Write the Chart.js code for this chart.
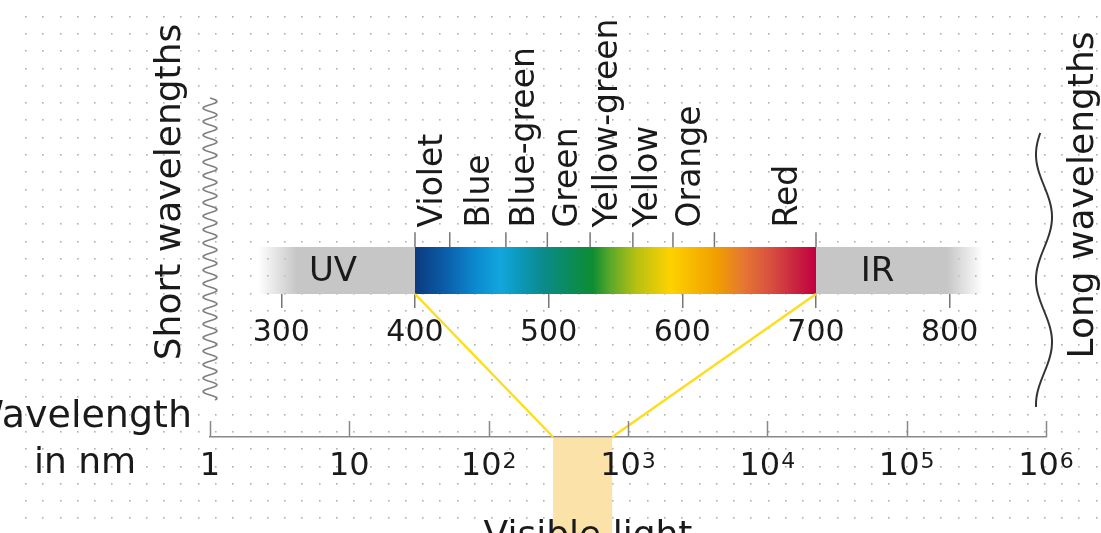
<!DOCTYPE html>
<html>
<head>
<meta charset="utf-8">
<script src="https://cdn.jsdelivr.net/npm/chart.js"></script>
<style>
html, body { margin: 0; padding: 0; background: #fff; }
#wrap { width: 1101px; height: 533px; }
</style>
</head>
<body>
<div id="wrap"><canvas id="plotCanvas"></canvas></div>
<script>
// log wavelength axis (nm)
var logTicks = [1, 10, 100, 1000, 10000, 100000, 1000000];
var logBase = ['1', '10', '10', '10', '10', '10', '10'];
var logExp = ['', '', '2', '3', '4', '5', '6'];
var visibleRange = [290, 770];

// linear zoom on the visible part (nm)
var nmTicks = [300, 400, 500, 600, 700, 800];
var spectrumRange = [400, 700];
var bandNames = ['Violet', 'Blue', 'Blue-green', 'Green', 'Yellow-green', 'Yellow', 'Orange', 'Red'];
var bandLabelNm = [413.8, 449, 482.7, 514.8, 544.7, 574.7, 606.9, 679.4];
var bandEdgesNm = [400, 426, 468, 499, 531, 563, 593, 624, 700];
var spectrumNm = [400, 421, 446, 464, 479, 496, 516, 533, 546, 566, 591, 608, 626, 645, 666, 686, 700];
var spectrumColors = ['#0b3a7e', '#0b5aa6', '#0b8bd0', '#12a6dc', '#0b98b8', '#0b8b8b', '#0b8b5a', '#0e8c32',
    '#5aa82a', '#b9c012', '#fed200', '#f8b800', '#f09e00', '#e67832', '#d8503f', '#c8203f', '#c2003f'];
var uvRange = [282.5, 311.7, 400];   // fade start, solid start, end
var irRange = [700, 797.9, 824.9];   // start, solid end, fade end
var uvLabelNm = 338.7;
var irLabelNm = 746;

var FONT = "'DejaVu Sans', sans-serif";

function fnt(size) {
    return size + 'px ' + FONT;
}

var diagramPlugin = {
    id: 'diagram',
    beforeDraw: function (chart) {
        var ctx = chart.ctx;
        ctx.save();
        ctx.fillStyle = '#ffffff';
        ctx.fillRect(0, 0, chart.width, chart.height);
        ctx.fillStyle = '#b0b0b0';
        for (var gx = 25; gx < chart.width; gx += 17.27) {
            for (var gy = 15.7; gy < chart.height; gy += 17.3) {
                ctx.fillRect(Math.round(gx), Math.round(gy), 1.6, 1.6);
            }
        }
        ctx.restore();
    },
    beforeDatasetsDraw: function (chart) {
        var ctx = chart.ctx;
        var xLog = chart.scales.x;
        var xNm = chart.scales.nm;
        var y = chart.scales.y;
        var area = chart.chartArea;
        var top = y.getPixelForValue(1);
        var bottom = y.getPixelForValue(0);
        var h = bottom - top;
        ctx.save();

        // UV and IR grey bands, fading out at the outer ends
        var gUv = ctx.createLinearGradient(xNm.getPixelForValue(uvRange[0]), 0, xNm.getPixelForValue(uvRange[1]), 0);
        gUv.addColorStop(0, 'rgba(198,198,198,0)');
        gUv.addColorStop(1, 'rgba(198,198,198,1)');
        ctx.fillStyle = gUv;
        ctx.fillRect(xNm.getPixelForValue(uvRange[0]), top, xNm.getPixelForValue(uvRange[2]) - xNm.getPixelForValue(uvRange[0]), h);
        var gIr = ctx.createLinearGradient(xNm.getPixelForValue(irRange[1]), 0, xNm.getPixelForValue(irRange[2]), 0);
        gIr.addColorStop(0, 'rgba(198,198,198,1)');
        gIr.addColorStop(1, 'rgba(198,198,198,0)');
        ctx.fillStyle = gIr;
        ctx.fillRect(xNm.getPixelForValue(irRange[0]), top, xNm.getPixelForValue(irRange[2]) - xNm.getPixelForValue(irRange[0]), h);

        // the spectrum itself
        var x0 = xNm.getPixelForValue(spectrumRange[0]);
        var x1 = xNm.getPixelForValue(spectrumRange[1]);
        var grad = ctx.createLinearGradient(x0, 0, x1, 0);
        spectrumNm.forEach(function (nm, i) {
            grad.addColorStop((nm - spectrumRange[0]) / (spectrumRange[1] - spectrumRange[0]), spectrumColors[i]);
        });
        ctx.fillStyle = grad;
        ctx.fillRect(x0, top, x1 - x0, h);

        // visible light window on the log axis
        var v0 = xLog.getPixelForValue(visibleRange[0]);
        var v1 = xLog.getPixelForValue(visibleRange[1]);
        ctx.fillStyle = '#fbe2a8';
        ctx.fillRect(v0, area.bottom + 1, v1 - v0, chart.height - area.bottom);

        // yellow connectors
        ctx.strokeStyle = '#ffdc1e';
        ctx.lineWidth = 2.5;
        ctx.beginPath();
        ctx.moveTo(x0, bottom);
        ctx.lineTo(v0, area.bottom);
        ctx.moveTo(x1, bottom);
        ctx.lineTo(v1, area.bottom);
        ctx.stroke();

        // decade ticks pointing up from the log axis
        ctx.strokeStyle = '#888888';
        ctx.lineWidth = 1.5;
        ctx.beginPath();
        logTicks.forEach(function (v) {
            var px = Math.round(xLog.getPixelForValue(v)) + 0.5;
            ctx.moveTo(px, area.bottom);
            ctx.lineTo(px, area.bottom - 16);
        });
        ctx.stroke();

        // short wave on the left
        var wx = xLog.getPixelForValue(logTicks[0]);
        ctx.strokeStyle = '#808080';
        ctx.lineWidth = 1.6;
        ctx.beginPath();
        for (var wy = 98; wy <= 400; wy++) {
            var px = wx + 7 * Math.sin(2 * Math.PI * (wy - 98) / 13.5);
            if (wy === 98) ctx.moveTo(px, wy); else ctx.lineTo(px, wy);
        }
        ctx.stroke();

        // long wave on the right
        var lx = xLog.getPixelForValue(logTicks[logTicks.length - 1]) - 2;
        ctx.strokeStyle = '#333333';
        ctx.lineWidth = 2;
        ctx.beginPath();
        for (var ly = 133; ly <= 407; ly++) {
            var qx = lx + 8 * Math.cos(2 * Math.PI * (ly - 217) / 125);
            if (ly === 133) ctx.moveTo(qx, ly); else ctx.lineTo(qx, ly);
        }
        ctx.stroke();
        ctx.restore();
    },
    afterDraw: function (chart) {
        var ctx = chart.ctx;
        var xLog = chart.scales.x;
        var xNm = chart.scales.nm;
        var y = chart.scales.y;
        ctx.save();
        ctx.fillStyle = '#1a1a1a';

        // colour names, rotated
        ctx.font = fnt(33);
        ctx.textAlign = 'left';
        ctx.textBaseline = 'middle';
        bandNames.forEach(function (name, i) {
            ctx.save();
            ctx.translate(xNm.getPixelForValue(bandLabelNm[i]), y.getPixelForValue(1.417));
            ctx.rotate(-Math.PI / 2);
            ctx.fillText(name, 0, 0);
            ctx.restore();
        });

        // UV / IR
        ctx.font = fnt(34);
        ctx.textAlign = 'center';
        ctx.textBaseline = 'alphabetic';
        ctx.fillText('UV', xNm.getPixelForValue(uvLabelNm), 281);
        ctx.fillText('IR', xNm.getPixelForValue(irLabelNm), 281);

        // log axis labels with superscripts
        logTicks.forEach(function (v, i) {
            ctx.font = fnt(32);
            var wb = ctx.measureText(logBase[i]).width;
            ctx.font = fnt(22);
            var we = logExp[i] ? ctx.measureText(logExp[i]).width + 1 : 0;
            var sx = xLog.getPixelForValue(v) - (wb + we) / 2;
            ctx.textAlign = 'left';
            ctx.font = fnt(32);
            ctx.fillText(logBase[i], sx, 475);
            if (logExp[i]) {
                ctx.font = fnt(22);
                ctx.fillText(logExp[i], sx + wb + 1, 468);
            }
        });

        ctx.font = fnt(38);
        ctx.textAlign = 'right';
        ctx.fillText('Wavelength', 192, 427);
        ctx.font = fnt(36);
        ctx.textAlign = 'center';
        ctx.fillText('in nm', 85, 473);
        ctx.fillText('Visible light', 588, 546);

        ctx.save();
        ctx.translate(180, 192);
        ctx.rotate(-Math.PI / 2);
        ctx.fillText('Short wavelengths', 0, 0);
        ctx.restore();

        ctx.save();
        ctx.translate(1093, 195);
        ctx.rotate(-Math.PI / 2);
        ctx.fillText('Long wavelengths', 0, 0);
        ctx.restore();
        ctx.restore();
    }
};

var canvas = document.getElementById('plotCanvas');
var ctx = canvas.getContext('2d');

var chart = new Chart(ctx, {
    type: 'scatter',
    data: {
        datasets: [{
            label: 'band edges',
            xAxisID: 'nm',
            yAxisID: 'y',
            data: bandEdgesNm.map(function (v) { return { x: v, y: 1.156 }; }),
            pointStyle: 'line',
            rotation: 90,
            radius: 7.5,
            borderColor: '#777777',
            borderWidth: 1.5
        }]
    },
    options: {
        responsive: true,
        maintainAspectRatio: false,
        animation: false,
        events: [],
        layout: { padding: { left: 210, right: 55, top: 0, bottom: 96 } },
        plugins: { legend: { display: false }, tooltip: { enabled: false } },
        scales: {
            x: {
                type: 'logarithmic',
                min: 1,
                max: 1000000,
                position: 'bottom',
                grid: { display: false, drawTicks: false },
                ticks: { display: false },
                border: { display: true, color: '#888888', width: 1.5 }
            },
            nm: {
                type: 'linear',
                axis: 'x',
                min: 246.64,
                max: 872.07,
                position: { y: 0 },
                grid: { display: true, drawOnChartArea: false, drawTicks: true, tickLength: 14, color: '#777777', lineWidth: 1.5 },
                border: { display: false },
                ticks: {
                    stepSize: 100,
                    includeBounds: false,
                    autoSkip: false,
                    maxRotation: 0,
                    padding: 7,
                    color: '#1a1a1a',
                    font: { family: FONT, size: 30 }
                },
                afterBuildTicks: function (scale) {
                    scale.ticks = nmTicks.map(function (v) { return { value: v }; });
                }
            },
            y: {
                type: 'linear',
                display: false,
                min: -3.0417,
                max: 6.0625
            }
        }
    },
    plugins: [diagramPlugin]
});
</script>
</body>
</html>
